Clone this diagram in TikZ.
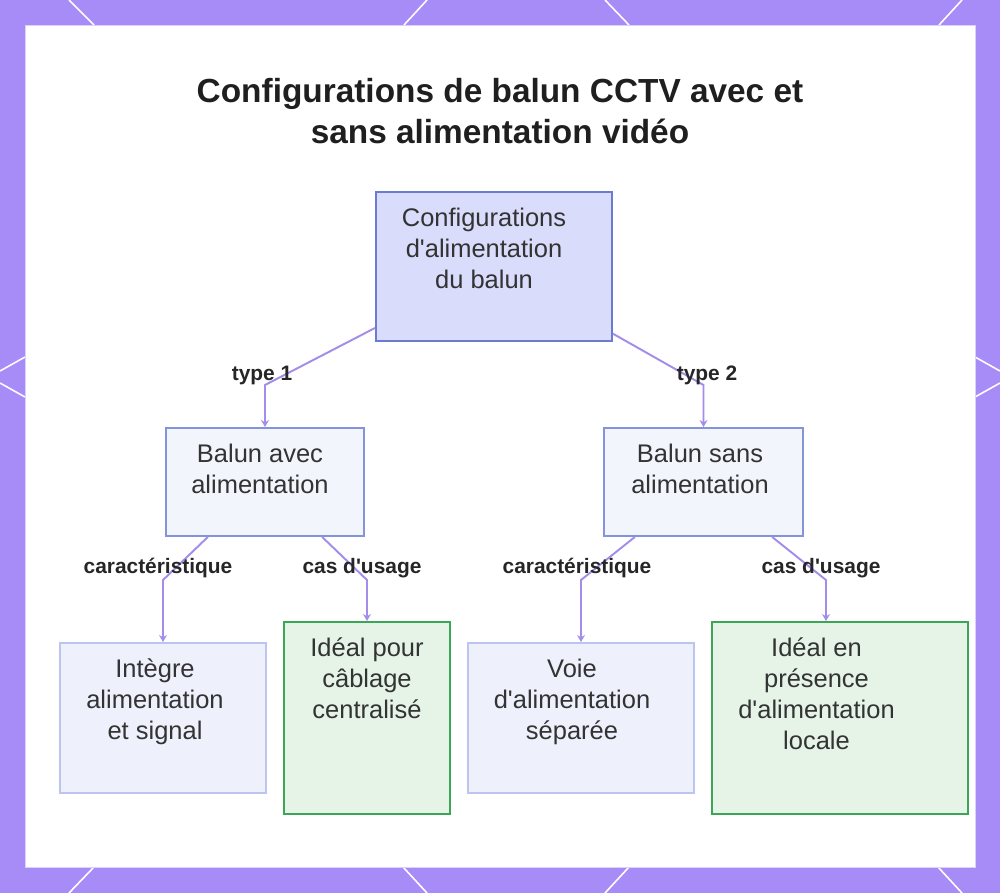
\documentclass[tikz,border=0pt]{standalone}
\usepackage{fontspec}
\setmainfont{Liberation Sans}
\usepackage{tikz}
\usetikzlibrary{positioning,arrows.meta}

\definecolor{frame}{HTML}{A78CF8}
\definecolor{rootfill}{HTML}{D9DCFB}
\definecolor{rootline}{HTML}{6B7BD0}
\definecolor{midfill}{HTML}{F3F5FD}
\definecolor{midline}{HTML}{8494DB}
\definecolor{leaffill}{HTML}{EEF0FC}
\definecolor{leafline}{HTML}{BCC4F0}
\definecolor{usefill}{HTML}{E6F4E7}
\definecolor{useline}{HTML}{3DA656}
\definecolor{link}{HTML}{A38CEA}
\definecolor{ink}{HTML}{333333}

% text block hung from the top of a fixed-size box, nudged left by #1
\newcommand{\boxtxt}[4][0cm]{%
  \parbox[c][#2][t]{\dimexpr#3-#1*2\relax}{\centering\rule{0pt}{0.68cm}#4}%
  \hspace*{\dimexpr#1*2\relax}}
\newcommand{\q}{\textquotesingle}

\begin{document}
\begin{tikzpicture}[
        x=0.02cm, y=-0.02cm,
        box/.style = {draw, inner sep=0pt, line width=1.1pt, text=ink,
                      font=\fontsize{14.5}{17.8}\selectfont},
        rootbox/.style = {box, fill=rootfill, draw=rootline},
        midbox/.style = {box, fill=midfill, draw=midline},
        leafbox/.style = {box, fill=leaffill, draw=leafline},
        usebox/.style = {box, fill=usefill, draw=useline},
        arrow/.style = {-{Stealth[length=4pt,width=4.5pt]}, line width=1.1pt, draw=link},
        lbl/.style = {font=\fontsize{11.9}{14}\selectfont\bfseries, text=black!85},
        deco/.style = {draw=white, line width=0.9pt}
    ]
    \useasboundingbox (0,0) rectangle (1000,893);

    % Frame
    \fill[frame] (0,0) rectangle (1000,893);
    \foreach \a/\b in {69/94, 427/404, 605/629, 962/939}
        \draw[deco] (\a,0) -- (\b,25);
    \foreach \a/\b in {94/69, 403/427, 629/605, 938/962}
        \draw[deco] (\a,867) -- (\b,893);
    \draw[deco] (0,371) -- (25,357);
    \draw[deco] (0,383) -- (25,397);
    \draw[deco] (975,357) -- (1000,371);
    \draw[deco] (1000,383) -- (975,397);
    \filldraw[fill=white, draw=frame!40] (25,25) rectangle (975,867);

    % Title
    \node[align=center, text=black!88, font=\fontsize{19}{23.3}\selectfont\bfseries] (title) at (500,111.5)
        {Configurations de balun CCTV avec et\\sans alimentation vidéo};

    % Boxes
    \node[rootbox] (root) at (494,266.5) {\boxtxt[0.2cm]{2.98cm}{4.72cm}{Configurations\\d\q alimentation\\du balun}};
    \node[midbox] (avec) at (265,482) {\boxtxt[0.1cm]{2.16cm}{3.96cm}{Balun avec\\alimentation}};
    \node[midbox] (sans) at (703.5,482) {\boxtxt[0.07cm]{2.16cm}{3.98cm}{Balun sans\\alimentation}};
    \node[leafbox] (integre) at (163,718) {\boxtxt[0.16cm]{3.0cm}{4.12cm}{Intègre\\alimentation\\et signal}};
    \node[usebox] (central) at (367,718) {\boxtxt{3.84cm}{3.32cm}{Idéal pour\\câblage\\centralisé}};
    \node[leafbox] (voie) at (581,718) {\boxtxt[0.18cm]{3.0cm}{4.52cm}{Voie\\d\q alimentation\\séparée}};
    \node[usebox] (locale) at (840,718) {\boxtxt[0.47cm]{3.84cm}{5.12cm}{Idéal en\\présence\\d\q alimentation\\locale}};

    % Bends
    \coordinate (k1) at (265,385);
    \coordinate (k2) at (703.5,385);
    \coordinate (k3) at (163,580);
    \coordinate (k4) at (367,580);
    \coordinate (k5) at (581,580);
    \coordinate (k6) at (826,580);

    % Arrows
    \draw[arrow] (root) -- (k1) -- (avec.north);
    \draw[arrow] (root) -- (k2) -- (sans.north);
    \draw[arrow] (avec) -- (k3) -- (integre.north);
    \draw[arrow] (avec) -- (k4) -- (central.north);
    \draw[arrow] (sans) -- (k5) -- (voie.north);
    \draw[arrow] (sans) -- (k6) -- (k6 |- locale.north);

    % Labels
    \node[lbl] (l1) at (262,375) {type 1};
    \node[lbl] (l2) at (707,375) {type 2};
    \node[lbl] (l3) at (158,568) {caractéristique};
    \node[lbl] (l4) at (362,568) {cas d\q usage};
    \node[lbl] (l5) at (577,568) {caractéristique};
    \node[lbl] (l6) at (821,568) {cas d\q usage};

\end{tikzpicture}
\end{document}
